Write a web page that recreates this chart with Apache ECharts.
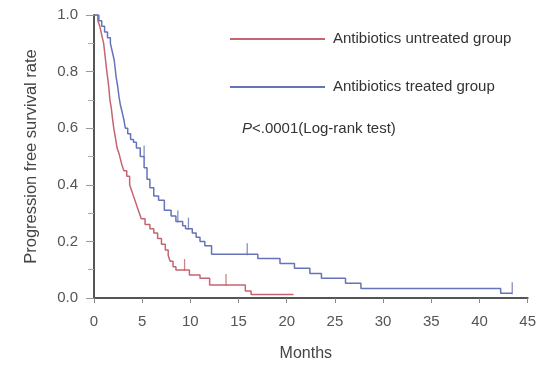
<!DOCTYPE html>
<html>
<head>
<meta charset="utf-8">
<script src="https://cdn.jsdelivr.net/npm/echarts@6/dist/echarts.min.js"></script>
<style>
  html, body { margin: 0; padding: 0; background: #fff; }
  #chart { width: 539px; height: 368px; }
</style>
</head>
<body>
<div id="chart"></div>
<script>
// Kaplan-Meier estimates: [month, survival probability] at each drop
const untreatedSteps = [
  [0, 1.0], [0.4, 0.98], [0.6, 0.96], [0.8, 0.93], [1.0, 0.90], [1.1, 0.87],
  [1.2, 0.84], [1.33, 0.80], [1.45, 0.77], [1.55, 0.74], [1.65, 0.70],
  [1.8, 0.67], [1.9, 0.64], [2.05, 0.60], [2.2, 0.57], [2.4, 0.53],
  [2.6, 0.51], [2.75, 0.49], [2.9, 0.47], [3.1, 0.45], [3.4, 0.43],
  [3.7, 0.40], [3.9, 0.38], [4.1, 0.36], [4.3, 0.34], [4.5, 0.32],
  [4.7, 0.30], [4.9, 0.28], [5.3, 0.26], [5.8, 0.245], [6.2, 0.23],
  [6.6, 0.21], [7.0, 0.19], [7.4, 0.17], [7.7, 0.15], [7.9, 0.13],
  [8.2, 0.11], [8.5, 0.099], [9.9, 0.081], [11.0, 0.07], [12.0, 0.046],
  [15.7, 0.025], [16.3, 0.012], [20.7, 0.012]
];
const treatedSteps = [
  [0, 1.0], [0.5, 0.98], [0.8, 0.96], [1.1, 0.94], [1.4, 0.92], [1.7, 0.90],
  [1.9, 0.87], [2.1, 0.84], [2.2, 0.81], [2.3, 0.78], [2.45, 0.75],
  [2.6, 0.71], [2.75, 0.68], [2.9, 0.66], [3.1, 0.63], [3.25, 0.60],
  [3.5, 0.58], [3.8, 0.56], [4.1, 0.55], [4.4, 0.53], [4.8, 0.50],
  [5.2, 0.46], [5.5, 0.42], [5.8, 0.39], [6.2, 0.36], [6.7, 0.345],
  [7.3, 0.31], [8.0, 0.29], [8.5, 0.27], [9.2, 0.255], [9.5, 0.245],
  [10.2, 0.23], [10.6, 0.215], [11.0, 0.20], [11.5, 0.185], [12.2, 0.155],
  [17.0, 0.14], [19.3, 0.122], [20.8, 0.105], [22.4, 0.087], [23.6, 0.07],
  [26.1, 0.052], [27.7, 0.034], [42.2, 0.017], [43.4, 0.017]
];
// Censored observations
const untreatedCensored = [[9.4, 0.099], [13.7, 0.046]];
const treatedCensored = [[5.2, 0.50], [8.7, 0.27], [9.8, 0.245], [15.9, 0.155], [43.4, 0.017]];

const seriesNames = ['Antibiotics untreated group', 'Antibiotics treated group'];
const xTicks = { min: 0, max: 45, interval: 5 };
const yTicks = { min: 0, max: 1, interval: 0.2 };

const RED = '#c4656f';
const BLUE = '#6673b8';
const AXIS = '#555555';
const FONT = 'Liberation Sans, Arial, sans-serif';

const chart = echarts.init(document.getElementById('chart'), null, { renderer: 'canvas' });

function censorSeries(name, data, color) {
  return {
    name: name,
    type: 'scatter',
    data: data,
    symbol: 'rect',
    symbolSize: [1.3, 12],
    symbolOffset: [0, -5],
    itemStyle: { color: color },
    silent: true,
    z: 3
  };
}

chart.setOption({
  animation: false,
  backgroundColor: '#ffffff',
  grid: { left: 94, right: 5, top: 15, bottom: 70 },
  legend: {
    data: seriesNames,
    orient: 'vertical',
    left: 225,
    top: 25,
    itemWidth: 95,
    itemHeight: 2,
    itemGap: 30,
    icon: 'rect',
    textStyle: { fontFamily: FONT, fontSize: 15, color: '#333', padding: [0, 0, 0, 3], lineHeight: 18 }
  },
  title: {
    text: '{i|P}<.0001(Log-rank test)',
    left: 237,
    top: 116,
    textStyle: {
      fontFamily: FONT, fontSize: 15, fontWeight: 'normal', color: '#333',
      rich: { i: { fontFamily: FONT, fontSize: 15, fontStyle: 'italic', color: '#333' } }
    }
  },
  xAxis: {
    type: 'value',
    min: xTicks.min, max: xTicks.max, interval: xTicks.interval,
    name: 'Months',
    nameLocation: 'middle',
    nameGap: 48,
    nameTextStyle: { fontFamily: FONT, fontSize: 16, color: '#444', padding: [0, 10, 0, 0] },
    axisLine: { lineStyle: { color: AXIS, width: 2 } },
    axisTick: { show: true, length: 5, lineStyle: { color: '#888', width: 1 } },
    axisLabel: { fontFamily: FONT, fontSize: 15, color: '#555', margin: 16 },
    splitLine: { show: false }
  },
  yAxis: {
    type: 'value',
    min: yTicks.min, max: yTicks.max, interval: yTicks.interval,
    name: 'Progression free survival rate',
    nameLocation: 'middle',
    nameGap: 54,
    nameTextStyle: { fontFamily: FONT, fontSize: 16.5, color: '#444' },
    axisLine: { show: true, lineStyle: { color: AXIS, width: 2 } },
    axisTick: { show: true, length: 8, lineStyle: { color: '#999', width: 1 } },
    minorTick: { show: true, splitNumber: 2, length: 6, lineStyle: { color: '#aaa', width: 1 } },
    axisLabel: { fontFamily: FONT, fontSize: 15, color: '#555', margin: 16,
                 formatter: v => v.toFixed(1) },
    splitLine: { show: false }
  },
  series: [
    {
      name: seriesNames[0],
      type: 'line',
      step: 'end',
      data: untreatedSteps,
      showSymbol: false,
      symbol: 'none',
      lineStyle: { color: RED, width: 1.5 },
      itemStyle: { color: RED },
      z: 2
    },
    {
      name: seriesNames[1],
      type: 'line',
      step: 'end',
      data: treatedSteps,
      showSymbol: false,
      symbol: 'none',
      lineStyle: { color: BLUE, width: 1.5 },
      itemStyle: { color: BLUE },
      z: 2
    },
    censorSeries(seriesNames[0], untreatedCensored, RED),
    censorSeries(seriesNames[1], treatedCensored, BLUE)
  ]
});
</script>
</body>
</html>
